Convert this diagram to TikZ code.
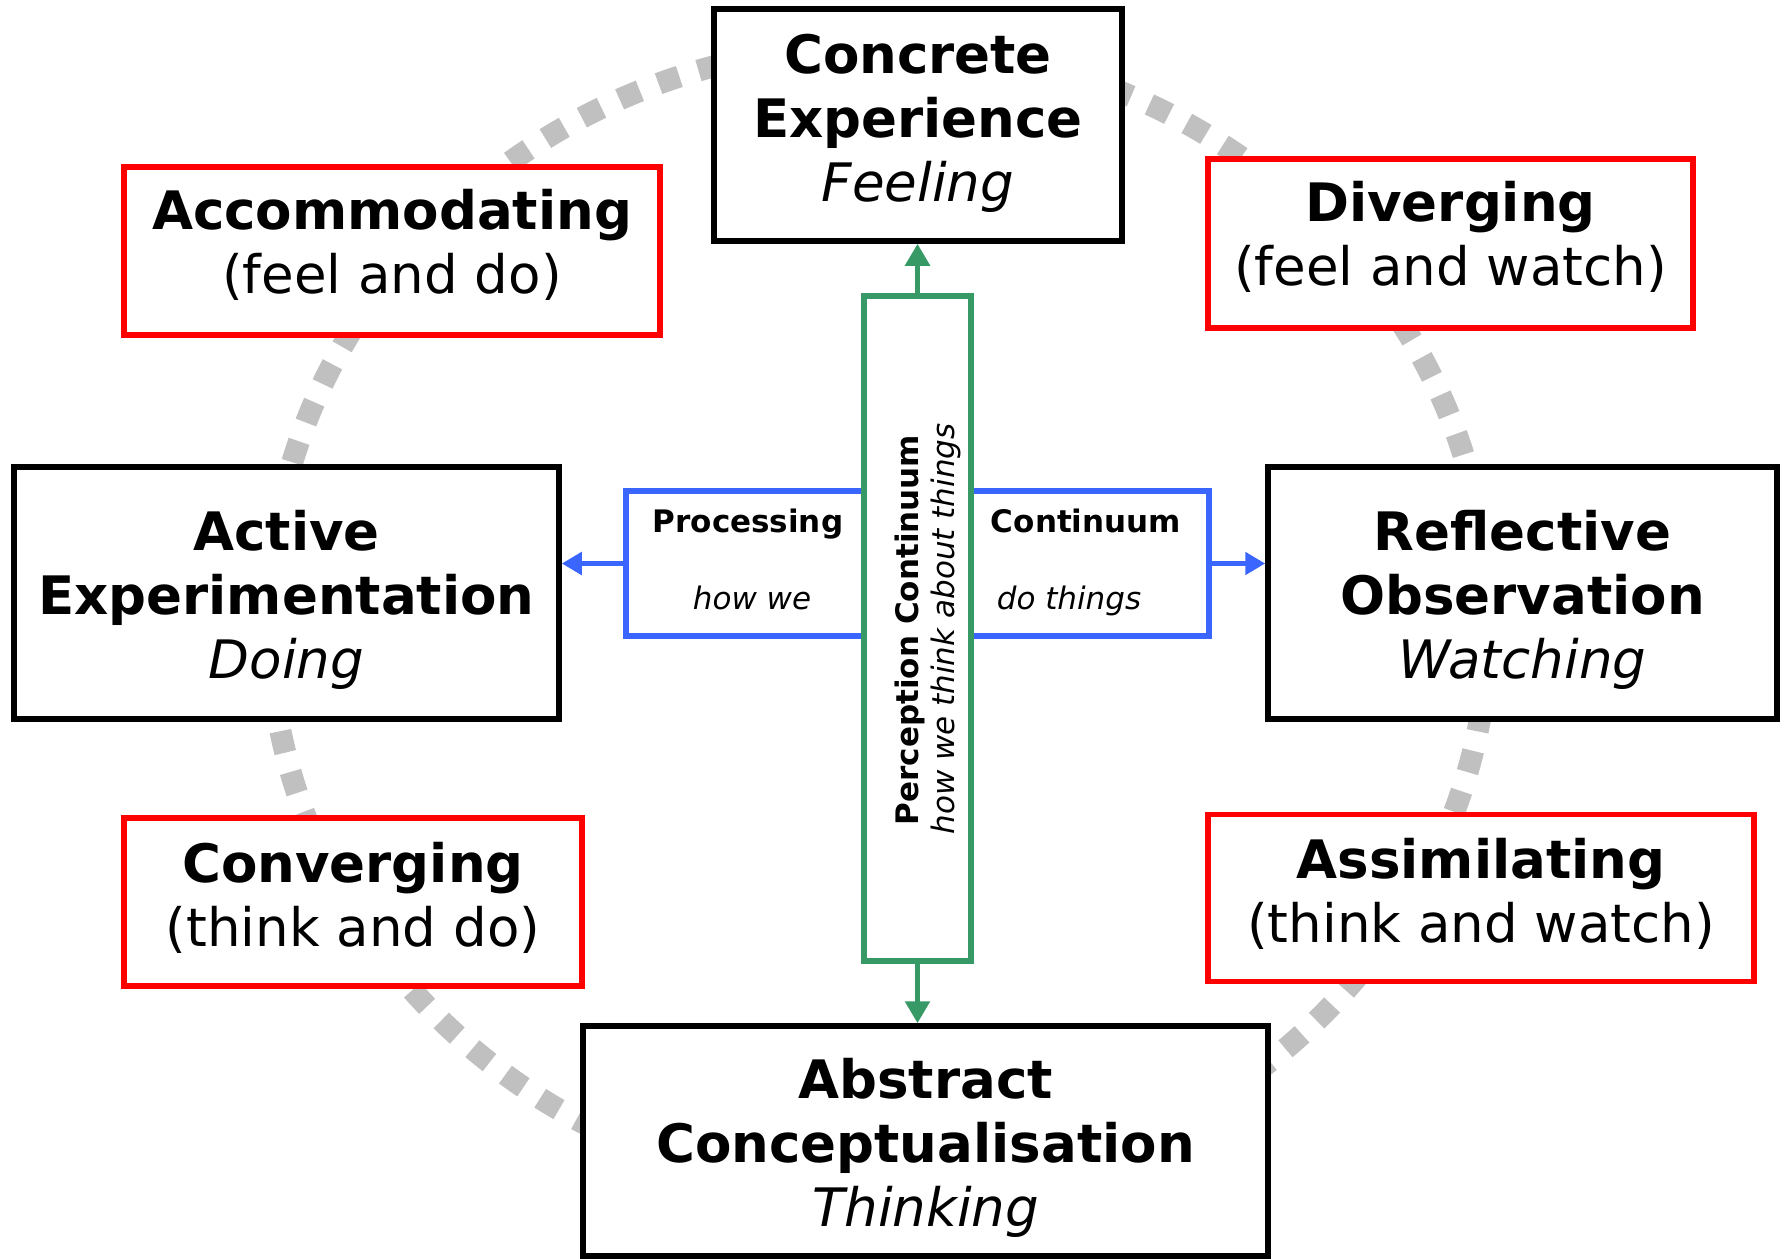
\documentclass[tikz,border=0pt]{standalone}
\usepackage{fontspec}
\setmainfont{DejaVu Sans}
\usetikzlibrary{positioning, arrows.meta}
\definecolor{percgreen}{RGB}{54,153,102}
\definecolor{procblue}{RGB}{58,102,255}
\definecolor{dotgray}{RGB}{192,192,192}
\newcommand{\bigtxt}{\fontsize{53}{64}\selectfont}
\newcommand{\smalltxt}{\fontsize{31}{38}\selectfont}

\begin{document}
\begin{tikzpicture}[x=1pt,y=-1pt,
  stage/.style={draw=black,line width=5.5pt,fill=white,inner sep=0pt},
  learnstyle/.style={draw=red,line width=5.5pt,fill=white,inner sep=0pt},
  boxtext/.style={align=center,font=\bigtxt,inner sep=0pt},
  percbox/.style={draw=percgreen,line width=5.5pt,fill=white,inner sep=0pt},
  procbox/.style={draw=procblue,line width=5.5pt,fill=white,inner sep=0pt},
  axislabel/.style={font=\smalltxt,anchor=base,inner sep=0pt},
  percarrow/.style={draw=percgreen,line width=5.5pt,-{Triangle[length=22pt,width=24pt]}},
  procarrow/.style={draw=procblue,line width=5.5pt,-{Triangle[length=20pt,width=22pt]}},
  cycledots/.style={draw=dotgray,line width=22pt,dash pattern=on 22pt off 20pt}]
\useasboundingbox (0,0) rectangle (1785,1258);

% the learning cycle
\draw[cycledots] (879,620) ellipse [x radius=610pt, y radius=575pt];

% stages
\node[stage,minimum width=408pt,minimum height=232pt] (concrete) at (918,125) {};
\node[boxtext] (concretetext) at ([yshift=2pt]concrete.center)
  {\textbf{Concrete}\\\textbf{Experience}\\\textit{Feeling}};
\node[stage,minimum width=545pt,minimum height=252pt] (active) at (286.5,593) {};
\node[boxtext] (activetext) at ([yshift=-7pt]active.center)
  {\textbf{Active}\\\textbf{Experimentation}\\\textit{Doing}};
\node[stage,minimum width=509pt,minimum height=252pt] (reflective) at (1522.5,593) {};
\node[boxtext] (reflectivetext) at ([yshift=-7pt]reflective.center)
  {\textbf{Reflective}\\\textbf{Observation}\\\textit{Watching}};
\node[stage,minimum width=685pt,minimum height=230pt] (abstract) at (925.5,1141) {};
\node[boxtext] (abstracttext) at ([yshift=-7pt]abstract.center)
  {\textbf{Abstract}\\\textbf{Conceptualisation}\\\textit{Thinking}};

% learning styles
\node[learnstyle,minimum width=536pt,minimum height=168pt] (accom) at (392,251) {};
\node[boxtext] (accomtext) at ([yshift=6pt]accom.center)
  {\textbf{Accommodating}\\(feel and do)};
\node[learnstyle,minimum width=485pt,minimum height=169pt] (diverg) at (1450.5,243.5) {};
\node[boxtext] (divergtext) at ([yshift=7pt]diverg.center)
  {\textbf{Diverging}\\(feel and watch)};
\node[learnstyle,minimum width=458pt,minimum height=168pt] (converg) at (353,902) {};
\node[boxtext] (convergtext) at ([yshift=4pt]converg.center)
  {\textbf{Converging}\\(think and do)};
\node[learnstyle,minimum width=546pt,minimum height=167pt] (assim) at (1481,898) {};
\node[boxtext] (assimtext) at ([yshift=4pt]assim.center)
  {\textbf{Assimilating}\\(think and watch)};

% processing continuum
\node[procbox,minimum width=583pt,minimum height=145pt] (proc) at (917.5,563.5) {};
\node[axislabel] (proctitle) at (748,532) {\textbf{Processing}};
\node[axislabel] (proctitleb) at (1086,532) {\textbf{Continuum}};
\node[axislabel] (procsub) at (752,609) {\textit{how we}};
\node[axislabel] (procsubb) at (1069,609) {\textit{do things}};
\draw[procarrow] (proc.west) -- (proc.west -| active.east);
\draw[procarrow] (proc.east) -- (proc.east -| reflective.west);

% perception continuum
\node[percbox,minimum width=107pt,minimum height=665pt] (perc) at (917.5,628.5) {};
\node[axislabel,rotate=90] (perctitle) at (918,630) {\textbf{Perception Continuum}};
\node[axislabel,rotate=90] (percsub) at (954,629) {\textit{how we think about things}};
\draw[percarrow] (perc.north) -- (perc.north |- concrete.south);
\draw[percarrow] (perc.south) -- (perc.south |- abstract.north);
\end{tikzpicture}
\end{document}
